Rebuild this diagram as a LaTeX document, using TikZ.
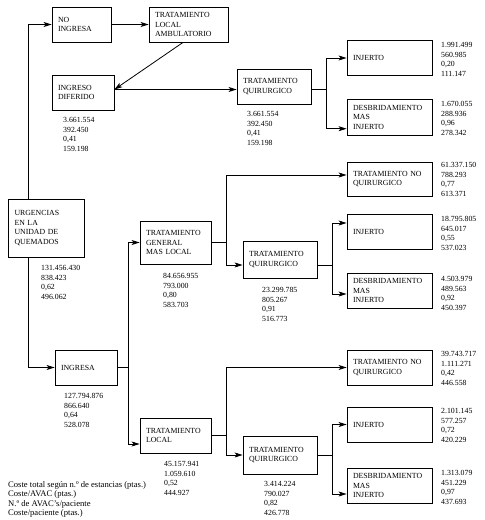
\documentclass[tikz,border=0pt]{standalone}
\usepackage{fontspec}
\setmainfont{Liberation Serif}
\usetikzlibrary{arrows.meta}
\newcommand\myfont{\fontsize{7.8}{9.5}\selectfont}
\newcommand\legfont{\fontsize{8.6}{9.5}\selectfont}
\begin{document}
\begin{tikzpicture}[x=1pt,y=-1pt,
  bx/.style={draw, line width=0.85pt, inner xsep=6pt, inner ysep=0pt, align=left, font=\myfont},
  rbx/.style={bx, minimum width=85pt, minimum height=35pt, text width=73pt},
  nums/.style={inner sep=0pt, anchor=north west, align=left, font=\myfont},
  ln/.style={line width=0.8pt},
  arr/.style={ln, -{Stealth[length=8pt,width=5pt,inset=2pt]}}]
\useasboundingbox[fill=white] (0,0) rectangle (485,520);

% boxes
\node[bx, minimum width=59pt, minimum height=35pt, text width=47pt] (noing) at (81.5,24.5) {NO\\INGRESA};
\node[bx, minimum width=79pt, minimum height=35pt, text width=67pt] (tla) at (188.5,24.5) {TRATAMIENTO\\LOCAL\\AMBULATORIO};
\node[bx, minimum width=62pt, minimum height=35pt, text width=50pt] (ingdif) at (83,92.5) {INGRESO\\DIFERIDO};
\node[bx, minimum width=74pt, minimum height=35pt, text width=62pt] (tq1) at (274,86.5) {TRATAMIENTO\\QUIRURGICO};
\node[rbx] (inj1) at (389.5,58) {INJERTO};
\node[rbx, minimum height=36pt] (dmi1) at (389.5,117) {DESBRIDAMIENTO\\MAS\\INJERTO};

\node[bx, minimum width=76pt, minimum height=58pt, text width=63pt] (urg) at (46,228) {URGENCIAS\\EN LA\\UNIDAD DE\\QUEMADOS};
\node[bx, minimum width=71pt, minimum height=43pt, text width=59pt] (tgml) at (175.5,242.5) {TRATAMIENTO\\GENERAL\\MAS LOCAL};
\node[rbx, minimum height=34pt] (tnq2) at (389.5,179) {TRATAMIENTO NO\\QUIRURGICO};
\node[bx, minimum width=74pt, minimum height=37pt, text width=62pt] (tq2) at (280,259.5) {TRATAMIENTO\\QUIRURGICO};
\node[rbx] (inj2) at (389.5,231.5) {INJERTO};
\node[rbx] (dmi2) at (389.5,290.5) {DESBRIDAMIENTO\\MAS\\INJERTO};

\node[bx, minimum width=62pt, minimum height=35pt, text width=50pt] (ingresa) at (86,367.5) {INGRESA};
\node[bx, minimum width=71pt, minimum height=35pt, text width=59pt] (tl) at (175.5,435.5) {TRATAMIENTO\\LOCAL};
\node[rbx] (tnq3) at (389.5,367.5) {TRATAMIENTO NO\\QUIRURGICO};
\node[bx, minimum width=74pt, minimum height=38pt, text width=62pt] (tq3) at (280,455) {TRATAMIENTO\\QUIRURGICO};
\node[rbx] (inj3) at (389.5,424.5) {INJERTO};
\node[rbx] (dmi3) at (389.5,485.5) {DESBRIDAMIENTO\\MAS\\INJERTO};

% number blocks
\node[nums] (ningdif) at (63,117.3) {3.661.554\\392.450\\0,41\\159.198};
\node[nums] (ntq1) at (247,111.3) {3.661.554\\392.450\\0,41\\159.198};
\node[nums] (ninj1) at (441,42.3) {1.991.499\\560.985\\0,20\\111.147};
\node[nums] (ndmi1) at (441,101.3) {1.670.055\\288.936\\0,96\\278.342};
\node[nums] (nurg) at (41,265.3) {131.456.430\\838.423\\0,62\\496.062};
\node[nums] (ntgml) at (163,273.3) {84.656.955\\793.000\\0,80\\583.703};
\node[nums] (ntnq2) at (441,162.3) {61.337.150\\788.293\\0,77\\613.371};
\node[nums] (ninj2) at (441,216.3) {18.795.805\\645.017\\0,55\\537.023};
\node[nums] (ndmi2) at (441,276.3) {4.503.979\\489.563\\0,92\\450.397};
\node[nums] (ntq2) at (262,287.3) {23.299.785\\805.267\\0,91\\516.773};
\node[nums] (ningresa) at (64,393.3) {127.794.876\\866.640\\0,64\\528.078};
\node[nums] (ntl) at (164,461.3) {45.157.941\\1.059.610\\0,52\\444.927};
\node[nums] (ntnq3) at (441,351.3) {39.743.717\\1.111.271\\0,42\\446.558};
\node[nums] (ninj3) at (441,408.3) {2.101.145\\577.257\\0,72\\420.229};
\node[nums] (ndmi3) at (441,470.3) {1.313.079\\451.229\\0,97\\437.693};
\node[nums] (ntq3) at (264,481.3) {3.414.224\\790.027\\0,82\\426.778};
\node[nums, font=\legfont] (legend) at (8,481) {Coste total según n.º de estancias (ptas.)\\Coste/AVAC (ptas.)\\N.º de AVAC's/paciente\\Coste/paciente (ptas.)};

% connectors
\draw[arr] ([xshift=21pt]urg.north west) |- (noing.west);
\draw[arr] (noing.east) -- (tla.west);
\draw[arr] ([xshift=-5.5pt]tla.south) -- ([yshift=3pt]ingdif.east);
\draw[arr] ([yshift=3pt]ingdif.east) -- ([yshift=3pt]ingdif.east -| tq1.west);
\draw[ln] ([yshift=-3pt]tq1.east) -- ++(15,0) coordinate (j4);
\draw[arr] (j4) |- (inj1.west);
\draw[arr] (j4) |- ([yshift=-11.7pt]dmi1.west);

\draw[arr] ([xshift=21pt]urg.south west) |- (ingresa.west);
\draw[ln] (ingresa.east) -- ++(11,0) coordinate (j1);
\draw[arr] (j1) |- (tgml.west);
\draw[arr] (j1) |- ([yshift=-8.5pt]tl.west);

\draw[ln] (tgml.east) -- ++(15,0) coordinate (j2);
\draw[arr] (j2) |- ([yshift=4pt]tnq2.west);
\draw[arr] (j2) |- ([yshift=-5.5pt]tq2.west);
\draw[ln] ([yshift=-5.5pt]tq2.east) -- ++(15,0) coordinate (j3);
\draw[arr] (j3) |- ([yshift=8.5pt]inj2.west);
\draw[arr] (j3) |- ([yshift=-3.5pt]dmi2.west);

\draw[ln] (tl.east) -- ++(15,0) coordinate (j5);
\draw[arr] (j5) |- (tnq3.west);
\draw[arr] (j5) |- (tq3.west);
\draw[ln] (tq3.east) -- ++(15,0) coordinate (j6);
\draw[arr] (j6) |- (inj3.west);
\draw[arr] (j6) |- ([yshift=-8.5pt]dmi3.west);
\end{tikzpicture}
\end{document}
